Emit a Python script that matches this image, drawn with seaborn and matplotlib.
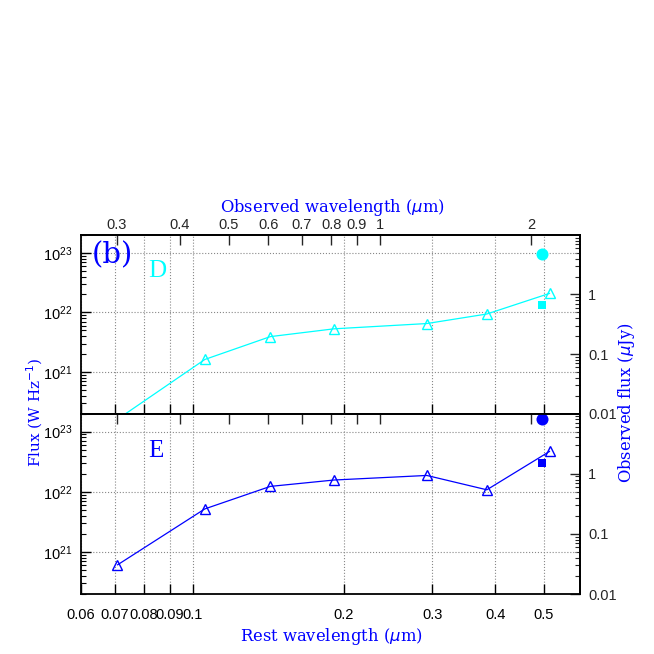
import matplotlib
matplotlib.use("Agg")
import matplotlib.pyplot as plt
import seaborn as sns
from matplotlib.ticker import FixedLocator, NullLocator, NullFormatter, FuncFormatter, LogLocator

# rest-frame wavelengths (micron) of the photometric points
REST_WL = [0.0709, 0.1058, 0.1428, 0.1912, 0.2924, 0.385, 0.5133]
# fluxes (W/Hz) for the two components
FLUX_D = [1.6e20, 1.62e21, 3.92e21, 5.3e21, 6.5e21, 9.4e21, 2.09e22]
FLUX_E = [6.1e20, 5.2e21, 1.23e22, 1.57e22, 1.87e22, 1.08e22, 4.7e22]
# extra points (square and circle) near the K band
EXTRA_WL = [0.496]
SQUARE_D = [1.31e22]
CIRCLE_D = [9.5e22]
SQUARE_E = [3.04e22]
CIRCLE_E = [1.63e23]

ONE_PLUS_Z = 4.24
WHZ_TO_UJY = 5e-23

REST_TICKS = [0.06, 0.07, 0.08, 0.09, 0.1, 0.2, 0.3, 0.4, 0.5]
OBS_TICKS = [0.3, 0.4, 0.5, 0.6, 0.7, 0.8, 0.9, 1, 2]
UJY_TICKS = [0.01, 0.1, 1]

CYAN = "#00ffff"
BLUE = "#0000ff"
LABEL_FONT = dict(family="DejaVu Serif", color=BLUE)

sns.set_theme(style="ticks")
plt.rcParams["font.family"] = ["Liberation Sans", "DejaVu Sans"]
plt.rcParams["mathtext.fontset"] = "dejavusans"
plt.rcParams["axes.edgecolor"] = "black"
plt.rcParams["axes.linewidth"] = 1.3

fig = plt.figure(figsize=(6.54, 6.54), dpi=100)
ax_d = fig.add_axes([0.1239, 0.3677, 0.7630, 0.2730])
ax_e = fig.add_axes([0.1239, 0.0917, 0.7630, 0.2760], sharex=ax_d)

gfmt = FuncFormatter(lambda v, p: f"{v:g}")


def style_panel(ax, flux, square, circle, color, top_labels, bottom_labels):
    ax.set_xscale("log")
    ax.set_yscale("log")
    sns.lineplot(x=REST_WL, y=flux, ax=ax, color=color, lw=0.9,
                 marker="^", markersize=7.5, markerfacecolor="none",
                 markeredgecolor=color, markeredgewidth=1.0)
    sns.scatterplot(x=EXTRA_WL, y=square, ax=ax, marker="s", s=30,
                    color=color, edgecolor=color, linewidth=0)
    sns.scatterplot(x=EXTRA_WL, y=circle, ax=ax, marker="o", s=75,
                    color=color, edgecolor=color, linewidth=0)
    ax.set_xlim(0.06, 0.59)
    ax.set_ylim(2e20, 2e23)
    ax.set_xlabel("")
    ax.set_ylabel("")

    ax.xaxis.set_major_locator(FixedLocator(REST_TICKS))
    ax.xaxis.set_minor_locator(NullLocator())
    ax.xaxis.set_major_formatter(gfmt)
    ax.yaxis.set_major_locator(LogLocator(base=10))
    ax.yaxis.set_minor_locator(LogLocator(base=10, subs=range(2, 10)))
    ax.tick_params(which="both", direction="in", top=False, right=False,
                   labelsize=10.5, colors="black", labelbottom=bottom_labels)
    ax.tick_params(axis="y", which="major", length=7, width=1, pad=6)
    ax.tick_params(axis="x", which="major", length=7, width=1, pad=10)
    ax.tick_params(which="minor", length=3.5, width=0.8)
    ax.grid(True, which="major", color="#888888", linestyle=":", linewidth=0.8)

    top = ax.secondary_xaxis("top", functions=(lambda x: x * ONE_PLUS_Z,
                                               lambda x: x / ONE_PLUS_Z))
    top.xaxis.set_major_locator(FixedLocator(OBS_TICKS))
    top.xaxis.set_minor_locator(NullLocator())
    top.xaxis.set_major_formatter(gfmt if top_labels else NullFormatter())
    top.tick_params(which="both", direction="in", length=7, width=1,
                    labelsize=10.5, pad=2)

    right = ax.secondary_yaxis("right", functions=(lambda f: f * WHZ_TO_UJY,
                                                   lambda u: u / WHZ_TO_UJY))
    right.yaxis.set_major_locator(FixedLocator(UJY_TICKS))
    right.yaxis.set_minor_locator(LogLocator(base=10, subs=range(2, 10)))
    right.yaxis.set_major_formatter(gfmt)
    right.tick_params(which="both", direction="in", labelsize=10.5, pad=6)
    right.tick_params(which="major", length=7, width=1)
    right.tick_params(which="minor", length=3.5, width=0.8)


style_panel(ax_d, FLUX_D, SQUARE_D, CIRCLE_D, CYAN, True, False)
style_panel(ax_e, FLUX_E, SQUARE_E, CIRCLE_E, BLUE, False, True)

ax_d.text(0.022, 0.965, "(b)", transform=ax_d.transAxes, va="top", ha="left",
          family="DejaVu Serif", size=21, color=BLUE)
ax_d.text(0.134, 0.763, "D", transform=ax_d.transAxes, va="baseline",
          ha="left", family="Liberation Serif", size=18, color=CYAN)
ax_e.text(0.135, 0.757, "E", transform=ax_e.transAxes, va="baseline",
          ha="left", family="Liberation Serif", size=18, color=BLUE)

fig.text(0.508, 0.682, r"Observed wavelength ($\mu$m)", ha="center",
         va="center", size=11.8, **LABEL_FONT)
fig.text(0.506, 0.0275, r"Rest wavelength ($\mu$m)", ha="center",
         va="center", size=11.8, **LABEL_FONT)
fig.text(0.0535, 0.369, r"Flux (W Hz$^{-1}$)", ha="center", va="center",
         rotation=90, size=11, **LABEL_FONT)
fig.text(0.9587, 0.384, r"Observed flux ($\mu$Jy)", ha="center",
         va="center", rotation=90, size=11.8, **LABEL_FONT)

fig.savefig("out.png", dpi=100)
